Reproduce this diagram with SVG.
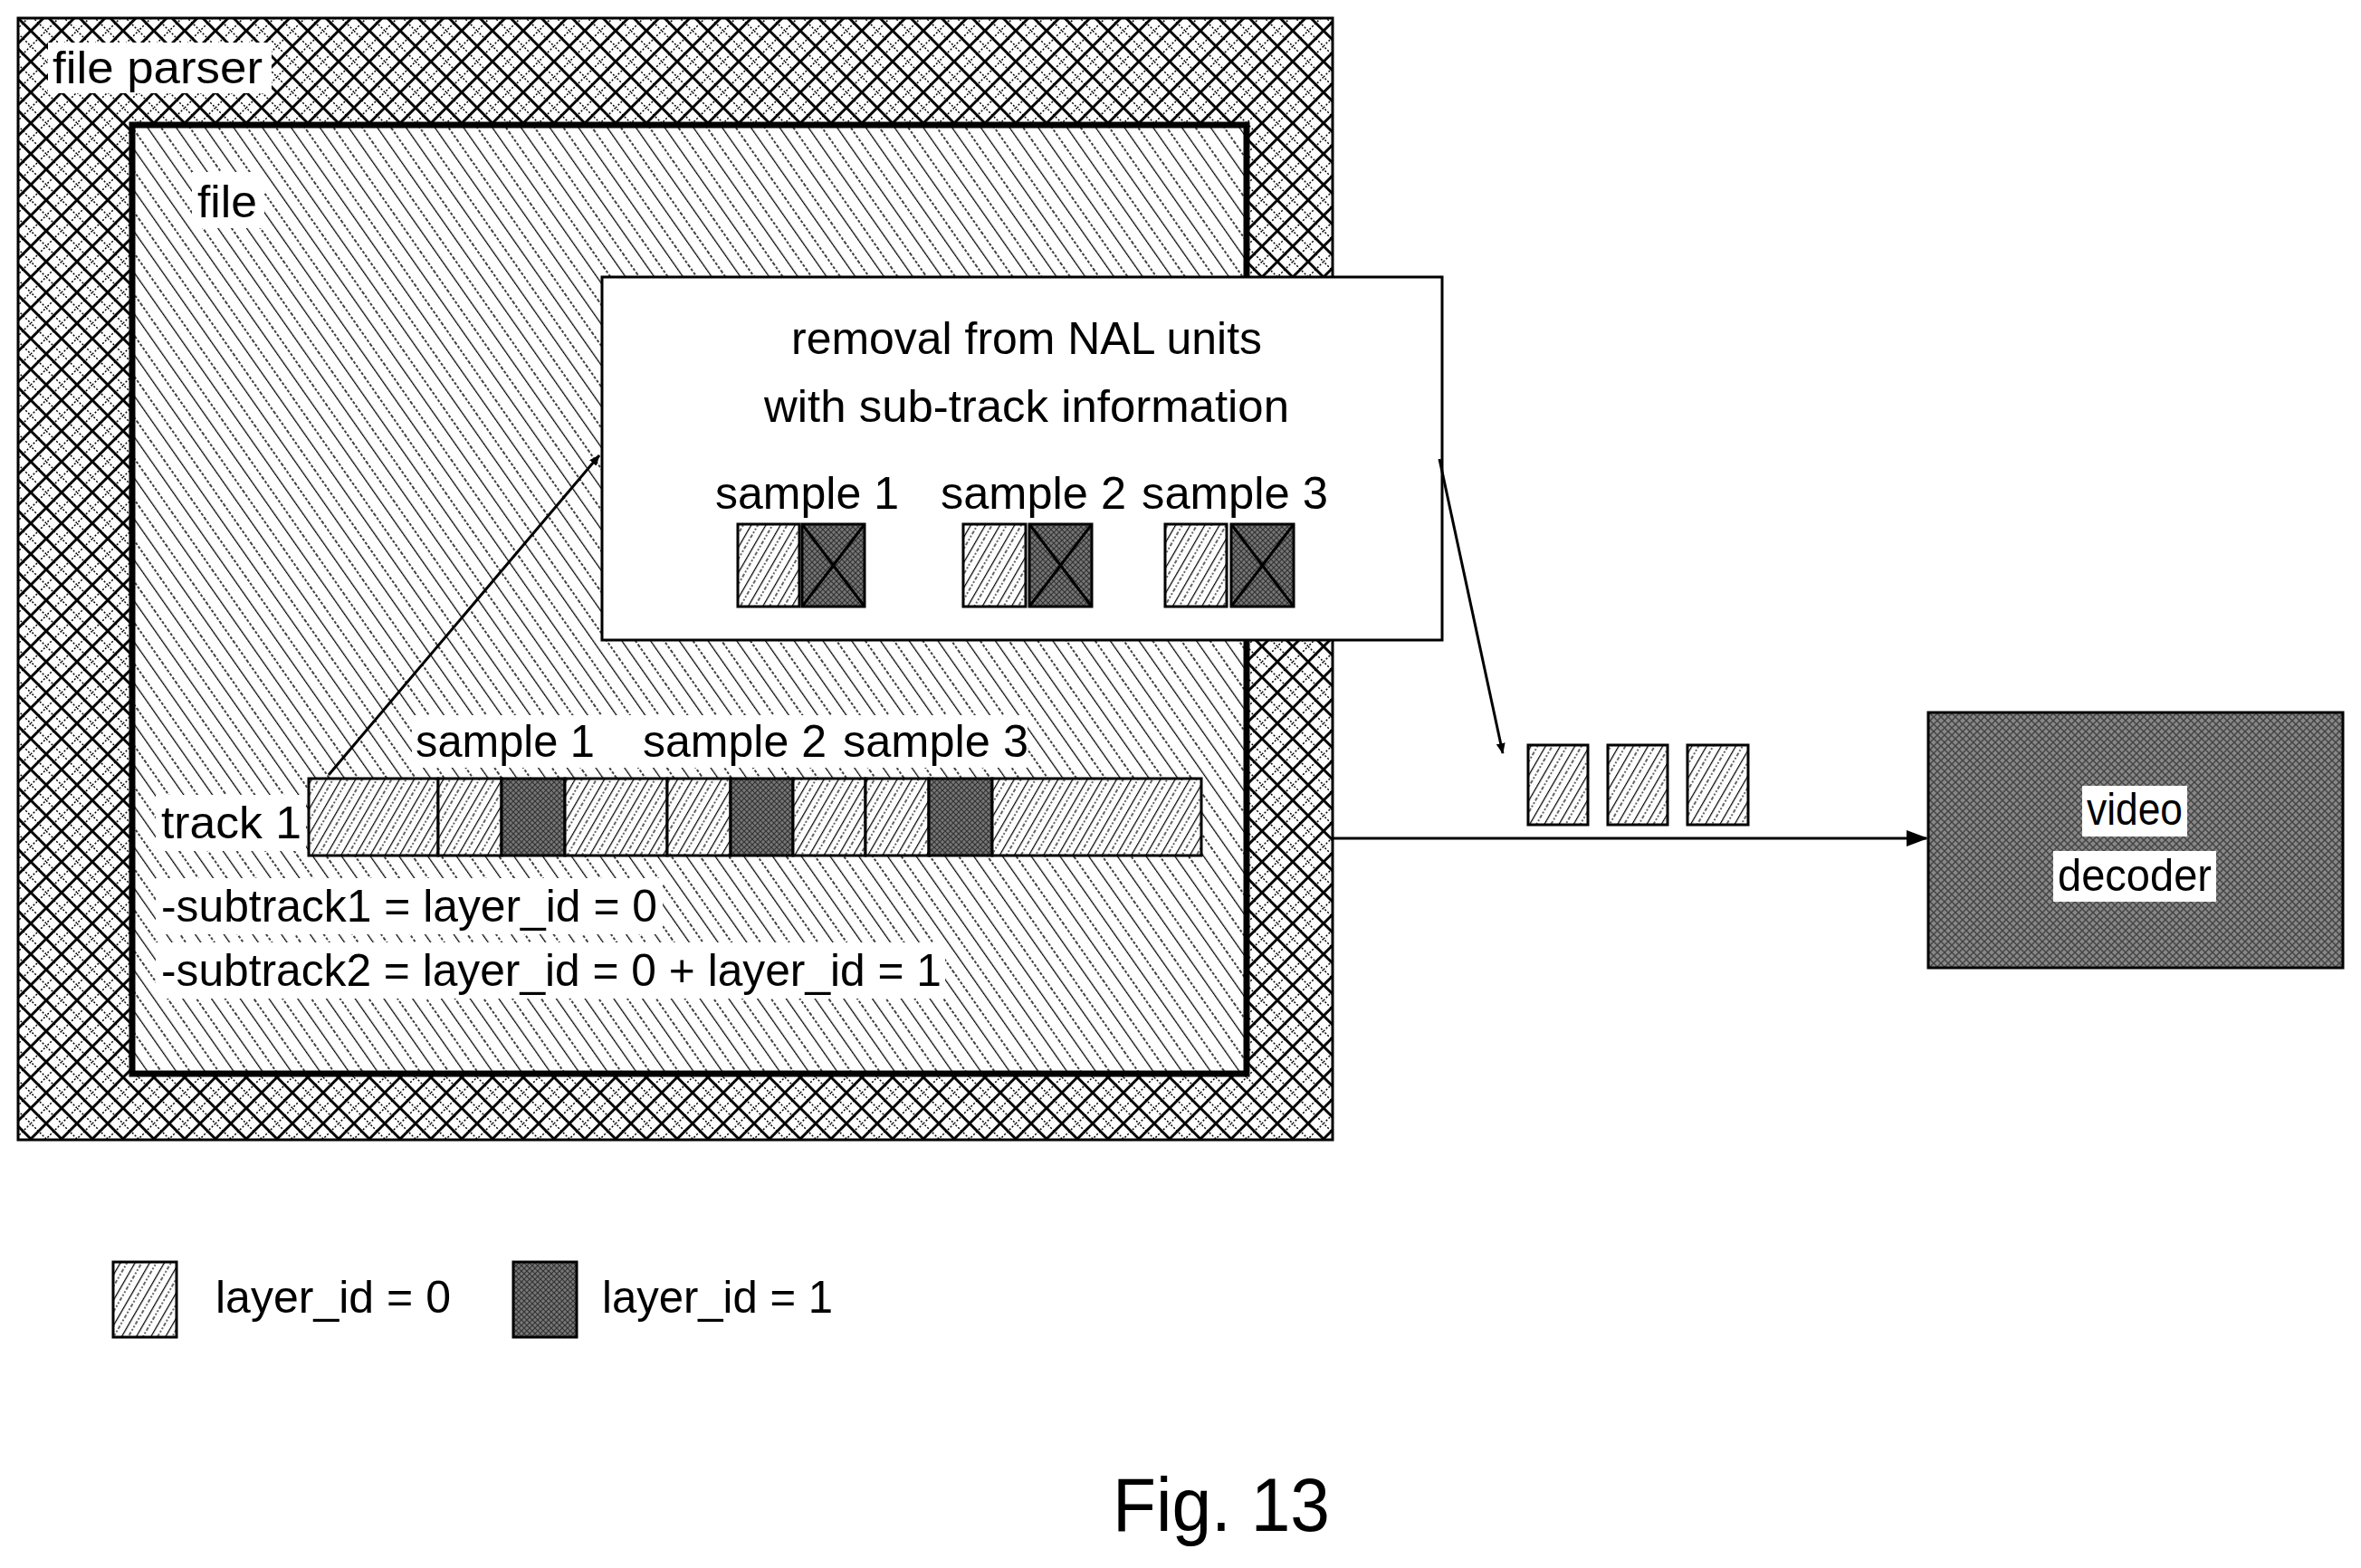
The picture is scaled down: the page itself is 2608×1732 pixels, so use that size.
<svg xmlns="http://www.w3.org/2000/svg" width="2608" height="1732" viewBox="0 0 2608 1732">
<style>
text{font-family:"Liberation Sans Narrow","Liberation Sans",Arial,sans-serif;fill:#000}
.t{font-size:50px}
.bg{fill:#fff}
.box{stroke:#000;stroke-width:3}
</style>
<defs>
<pattern id="cross" width="34" height="34" patternUnits="userSpaceOnUse">
<rect width="34" height="34" fill="#fff"/>
<path d="M0 0L34 34M34 0L0 34" stroke="#000" stroke-width="3"/>
<path d="M17 0L34 17L17 34L0 17Z" stroke="#000" stroke-width="1.5" stroke-dasharray="2 2" fill="none"/>
</pattern>
<pattern id="diag" width="26" height="26" patternUnits="userSpaceOnUse" patternTransform="rotate(-35)">
<rect width="26" height="26" fill="#fff"/>
<path d="M0 0V26" stroke="#000" stroke-width="2.5"/>
<path d="M13 0V26" stroke="#000" stroke-width="1.5" stroke-dasharray="3 2"/>
</pattern>
<pattern id="light" width="14" height="14" patternUnits="userSpaceOnUse" patternTransform="rotate(30)">
<rect width="14" height="14" fill="#fff"/>
<path d="M0 0V14" stroke="#000" stroke-width="2.5"/>
<path d="M7 0V14" stroke="#000" stroke-width="1.2" stroke-dasharray="2 2"/>
</pattern>
<pattern id="dark" width="6" height="6" patternUnits="userSpaceOnUse">
<rect width="6" height="6" fill="#777"/>
<path d="M0 0L6 6M6 0L0 6" stroke="#333" stroke-width="1.2"/>
</pattern>
<pattern id="dec" width="8" height="8" patternUnits="userSpaceOnUse">
<rect width="8" height="8" fill="#888"/>
<path d="M0 0L8 8M8 0L0 8" stroke="#444" stroke-width="1.5"/>
</pattern>
<marker id="ah" markerWidth="12" markerHeight="10" refX="11" refY="5" orient="auto" markerUnits="userSpaceOnUse" viewBox="0 0 12 10">
<path d="M0 0L12 5L0 10Z" fill="#000"/>
</marker>
<marker id="ah2" markerWidth="24" markerHeight="18" refX="22" refY="9" orient="auto" markerUnits="userSpaceOnUse" viewBox="0 0 24 18">
<path d="M0 0L24 9L0 18Z" fill="#000"/>
</marker>
</defs>

<g id="fileparser">
<rect x="20" y="20" width="1452" height="1239" fill="url(#cross)" class="box"/>
<rect x="53" y="47" width="247" height="56" class="bg"/>
<text x="58" y="92" class="t" textLength="232" lengthAdjust="spacingAndGlyphs">file parser</text>
</g>

<g id="file">
<rect x="146" y="138" width="1231" height="1048" fill="url(#diag)" stroke="#000" stroke-width="7"/>
<rect x="212" y="190" width="80" height="62" class="bg"/>
<text x="218" y="240" class="t" textLength="66" lengthAdjust="spacingAndGlyphs">file</text>
</g>

<g id="track">
<rect x="172" y="878" width="166" height="62" class="bg"/>
<text x="178" y="926" class="t" textLength="155" lengthAdjust="spacingAndGlyphs">track 1</text>
<rect x="341" y="860" width="143" height="85" fill="url(#light)" class="box"/>
<rect x="484" y="860" width="70" height="85" fill="url(#light)" class="box"/>
<rect x="554" y="860" width="70" height="85" fill="url(#dark)" class="box"/>
<rect x="624" y="860" width="113" height="85" fill="url(#light)" class="box"/>
<rect x="737" y="860" width="70" height="85" fill="url(#light)" class="box"/>
<rect x="807" y="860" width="69" height="85" fill="url(#dark)" class="box"/>
<rect x="876" y="860" width="80" height="85" fill="url(#light)" class="box"/>
<rect x="956" y="860" width="70" height="85" fill="url(#light)" class="box"/>
<rect x="1026" y="860" width="70" height="85" fill="url(#dark)" class="box"/>
<rect x="1096" y="860" width="231" height="85" fill="url(#light)" class="box"/>
<rect x="455" y="790" width="680" height="58" class="bg"/>
<text x="459" y="836" class="t" textLength="198" lengthAdjust="spacingAndGlyphs">sample 1</text>
<text x="710" y="836" class="t" textLength="203" lengthAdjust="spacingAndGlyphs">sample 2</text>
<text x="931" y="836" class="t" textLength="205" lengthAdjust="spacingAndGlyphs">sample 3</text>
<rect x="172" y="970" width="560" height="62" class="bg"/>
<text x="178" y="1018" class="t" textLength="548" lengthAdjust="spacingAndGlyphs">-subtrack1 = layer_id = 0</text>
<rect x="172" y="1041" width="872" height="62" class="bg"/>
<text x="178" y="1089" class="t" textLength="862" lengthAdjust="spacingAndGlyphs">-subtrack2 = layer_id = 0 + layer_id = 1</text>
</g>

<g id="removal">
<rect x="665" y="306" width="928" height="401" fill="#fff" class="box"/>
<text x="1134" y="391" class="t" text-anchor="middle" textLength="520" lengthAdjust="spacingAndGlyphs">removal from NAL units</text>
<text x="1134" y="466" class="t" text-anchor="middle" textLength="580" lengthAdjust="spacingAndGlyphs">with sub-track information</text>
<text x="790" y="562" class="t" textLength="203" lengthAdjust="spacingAndGlyphs">sample 1</text>
<text x="1039" y="562" class="t" textLength="205" lengthAdjust="spacingAndGlyphs">sample 2</text>
<text x="1261" y="562" class="t" textLength="206" lengthAdjust="spacingAndGlyphs">sample 3</text>
<rect x="815" y="579" width="68" height="91" fill="url(#light)" class="box"/>
<rect x="886" y="579" width="69" height="91" fill="url(#dark)" class="box"/>
<path d="M886 579L955 670M955 579L886 670" stroke="#000" stroke-width="3"/>
<rect x="1064" y="579" width="69" height="91" fill="url(#light)" class="box"/>
<rect x="1137" y="579" width="69" height="91" fill="url(#dark)" class="box"/>
<path d="M1137 579L1206 670M1206 579L1137 670" stroke="#000" stroke-width="3"/>
<rect x="1287" y="579" width="68" height="91" fill="url(#light)" class="box"/>
<rect x="1360" y="579" width="69" height="91" fill="url(#dark)" class="box"/>
<path d="M1360 579L1429 670M1429 579L1360 670" stroke="#000" stroke-width="3"/>
</g>

<g id="output-units">
<rect x="1688" y="823" width="66" height="88" fill="url(#light)" class="box"/>
<rect x="1776" y="823" width="66" height="88" fill="url(#light)" class="box"/>
<rect x="1864" y="823" width="67" height="88" fill="url(#light)" class="box"/>
</g>

<g id="decoder">
<rect x="2130" y="787" width="458" height="282" fill="url(#dec)" class="box"/>
<rect x="2300" y="868" width="116" height="56" class="bg"/>
<text x="2358" y="911" class="t" text-anchor="middle" textLength="106" lengthAdjust="spacingAndGlyphs">video</text>
<rect x="2268" y="940" width="180" height="56" class="bg"/>
<text x="2358" y="984" class="t" text-anchor="middle" textLength="170" lengthAdjust="spacingAndGlyphs">decoder</text>
</g>

<g id="legend">
<rect x="125" y="1394" width="70" height="83" fill="url(#light)" class="box"/>
<text x="238" y="1450" class="t" textLength="260" lengthAdjust="spacingAndGlyphs">layer_id = 0</text>
<rect x="567" y="1394" width="70" height="83" fill="url(#dark)" class="box"/>
<text x="665" y="1450" class="t" textLength="255" lengthAdjust="spacingAndGlyphs">layer_id = 1</text>
</g>

<g id="connectors" fill="none" stroke="#000" stroke-width="3">
<line x1="363" y1="856" x2="662" y2="503" marker-end="url(#ah)"/>
<line x1="1590" y1="507" x2="1660" y2="832" marker-end="url(#ah)"/>
<line x1="1472" y1="926" x2="2128" y2="926" marker-end="url(#ah2)"/>
</g>

<text x="1349" y="1691" text-anchor="middle" style="font-size:84px" textLength="240" lengthAdjust="spacingAndGlyphs">Fig. 13</text>
</svg>
